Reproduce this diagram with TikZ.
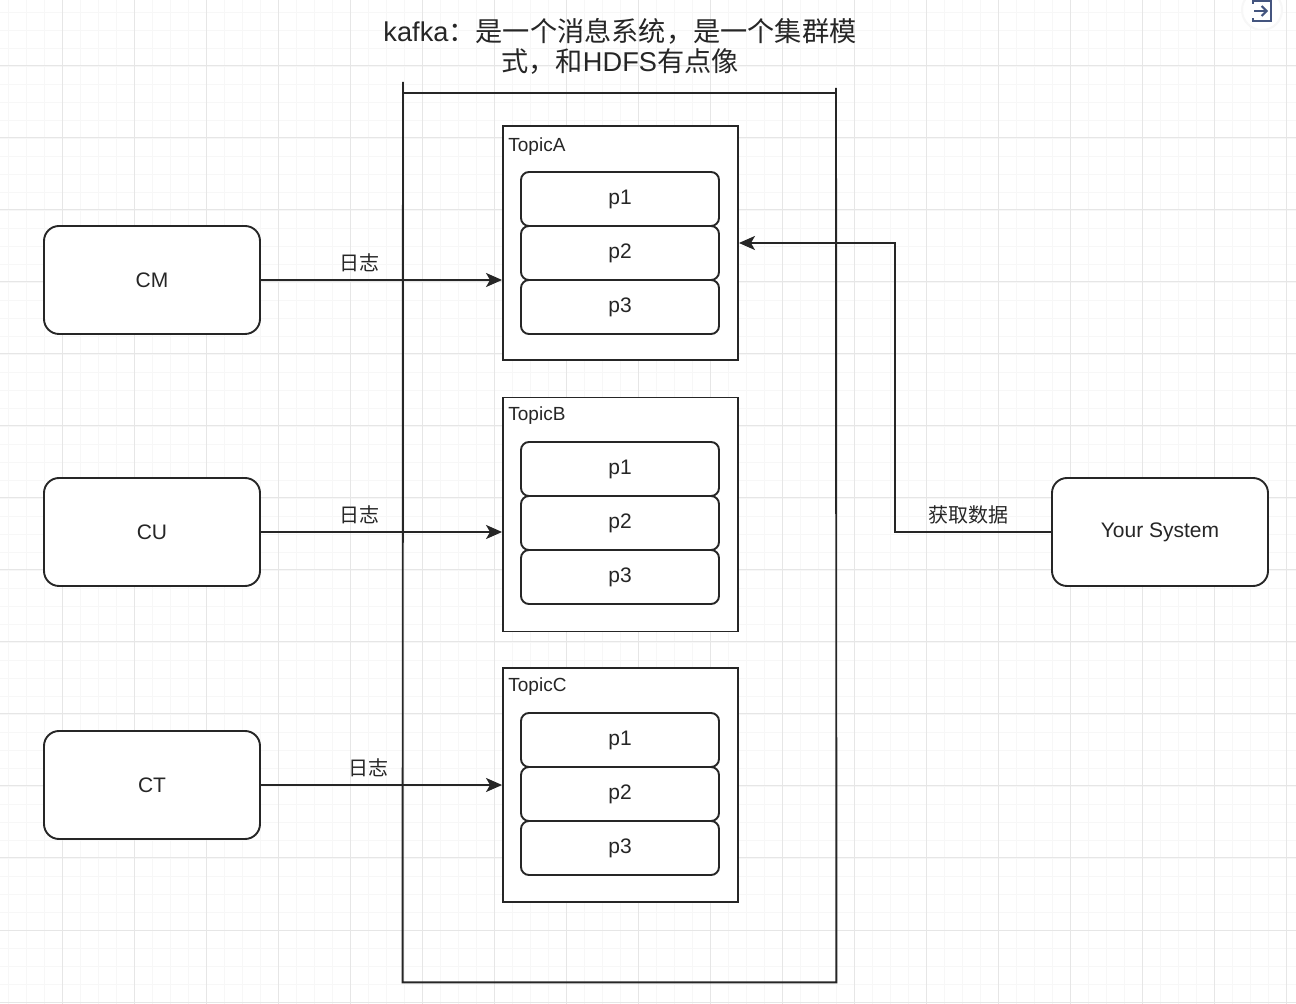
\documentclass[tikz,border=0pt]{standalone}
\usepackage{fontspec}
\setmainfont{Liberation Sans}
\newfontfamily\cjk{Noto Sans CJK SC}
\usetikzlibrary{arrows.meta,calc}
\definecolor{ink}{HTML}{262626}
\definecolor{gridmaj}{HTML}{E6E6E6}
\definecolor{gridmin}{HTML}{F7F7F7}
\definecolor{iconc}{HTML}{44557F}
\tikzset{
  px/.style={x=0.5pt,y=-0.5pt},
  srcbox/.style={draw=ink, line width=0.95pt, fill=white, rounded corners=7.5pt,
    minimum width=108pt, minimum height=54pt, inner sep=0pt, font=\fontsize{10.5pt}{12pt}\selectfont, text=ink},
  topicbox/.style={draw=ink, line width=0.95pt, fill=white, minimum width=117.5pt, minimum height=117pt, inner sep=0pt},
  partbox/.style={draw=ink, line width=0.95pt, fill=white, rounded corners=4pt,
    minimum width=99pt, minimum height=27pt, inner sep=0pt, font=\fontsize{10.5pt}{12pt}\selectfont, text=ink},
  topiclbl/.style={anchor=north west, inner sep=0pt, font=\fontsize{9.5pt}{11pt}\selectfont, text=ink},
  edgelbl/.style={inner sep=0pt, font=\fontsize{10pt}{12pt}\selectfont\cjk, text=ink},
  flow/.style={draw=ink, line width=0.95pt, -{Stealth[length=8pt,width=7pt,inset=2pt]}},
  frame/.style={draw=ink, line width=0.95pt},
}
\begin{document}
\begin{tikzpicture}[px]
\useasboundingbox (0,0) rectangle (1296,1004);
\fill[white] (0,0) rectangle (1296,1004);
% grid
\foreach \i in {0,...,72} {
  \draw[gridmin, line width=0.4pt] ({-10+18*\i},0) -- ({-10+18*\i},1004);
}
\foreach \i in {0,...,56} {
  \draw[gridmin, line width=0.4pt] (0,{-6+18*\i}) -- (1296,{-6+18*\i});
}
\foreach \i in {0,...,18} {
  \draw[gridmaj, line width=0.5pt] ({-10+72*\i},0) -- ({-10+72*\i},1004);
}
\foreach \i in {0,...,14} {
  \draw[gridmaj, line width=0.5pt] (0,{-6+72*\i}) -- (1296,{-6+72*\i});
}

% title
\node[align=center, inner sep=0pt, text=ink, font=\fontsize{13.6pt}{15pt}\selectfont] (title) at (620,46)
  {kafka{\cjk ：是一个消息系统，是一个集群模}\\{\cjk 式，}{\cjk 和}HDFS{\cjk 有点像}};

% container frame
\node[inner sep=0pt, minimum width=216.5pt, minimum height=444.5pt] (kafka) at (619.5,537.5) {};
\coordinate (kl) at (403,82);
\coordinate (kr) at (836,88);
\draw[frame] (kl) -- (kafka.south west) -- (kafka.south east) -- (kr);
\draw[frame] (kafka.north west) -- (kafka.north east);

% topics
\node[topicbox] (ta) at (620.5,243) {};
\node[topicbox] (tb) at (620.5,514.5) {};
\node[topicbox] (tc) at (620.5,785) {};
\node[topiclbl] (tal) at (508,137) {TopicA};
\node[topiclbl] (tbl) at (508,406) {TopicB};
\node[topiclbl] (tcl) at (508,677) {TopicC};

\node[partbox] (a1) at (620,199) {p1};
\node[partbox] (a2) at (620,253) {p2};
\node[partbox] (a3) at (620,307) {p3};
\node[partbox] (b1) at (620,469) {p1};
\node[partbox] (b2) at (620,523) {p2};
\node[partbox] (b3) at (620,577) {p3};
\node[partbox] (c1) at (620,740) {p1};
\node[partbox] (c2) at (620,794) {p2};
\node[partbox] (c3) at (620,848) {p3};

% sources
\node[srcbox] (cm) at (152,280) {CM};
\node[srcbox] (cu) at (152,532) {CU};
\node[srcbox] (ct) at (152,785) {CT};
\node[srcbox] (ys) at (1160,532) {Your System};

% edges
\draw[flow] (cm.east) -- node[edgelbl, pos=0.41, yshift=8.5pt] {日志} (cm.east -| ta.west);
\draw[flow] (cu.east) -- node[edgelbl, pos=0.41, yshift=8.5pt] {日志} (cu.east -| tb.west);
\draw[flow] (ct.east) -- node[edgelbl, pos=0.445, yshift=8.5pt] {日志} (ct.east -| tc.west);
\coordinate (bend) at (895,532);
\draw[flow] (ys.west) -- node[edgelbl, pos=0.53, yshift=8.5pt] {获取数据} (bend) |- (ta.east);

% UI icon at top right
\node[circle, fill=white, draw=gridmin, line width=1pt, minimum size=20pt, inner sep=0pt] (ui) at (1262,10) {};
\coordinate (ia) at (1253,4);
\coordinate (ib) at (1253,18);
\draw[iconc, line width=1pt] (ia) -- (1253,1) -- (1271,1) -- (1271,21) -- (1253,21) -- (ib);
\draw[iconc, line width=1pt, -{Straight Barb[length=2.5pt,width=5pt]}] (1254,11) -- (1268,11);
\end{tikzpicture}
\end{document}
